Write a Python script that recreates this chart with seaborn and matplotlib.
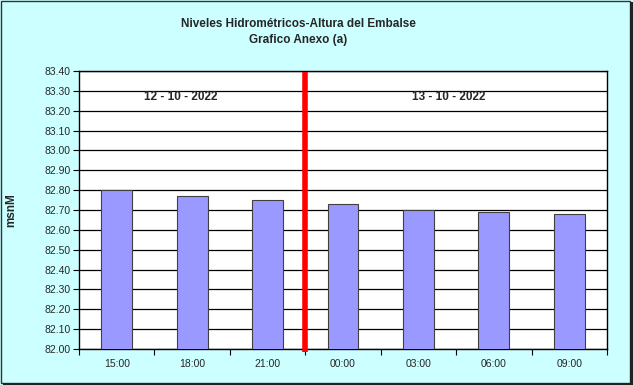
import matplotlib
matplotlib.use("Agg")
import matplotlib.pyplot as plt
import seaborn as sns
import pandas as pd
import numpy as np
from matplotlib.patches import Rectangle

hours = ["15:00", "18:00", "21:00", "00:00", "03:00", "06:00", "09:00"]
levels = [82.80, 82.77, 82.75, 82.73, 82.70, 82.69, 82.68]
y_ticks = [82.00, 82.10, 82.20, 82.30, 82.40, 82.50, 82.60, 82.70, 82.80, 82.90, 83.00, 83.10, 83.20, 83.30, 83.40]
day_labels = ["12 - 10 - 2022", "13 - 10 - 2022"]
title_lines = ["Niveles Hidrométricos-Altura del Embalse", "Grafico Anexo (a)"]
y_label = "msnM"

sns.set_theme(style="white")
plt.rcParams['font.family'] = ['Liberation Sans', 'DejaVu Sans']

bg = "#CCFFFF"
fig = plt.figure(figsize=(6.33, 3.85), dpi=100, facecolor=bg)
ax = fig.add_axes([79/633, 1-349/385, (607-79)/633, (349-71)/385])
ax.set_facecolor("white")

df = pd.DataFrame({"hora": hours, "nivel": levels})
sns.barplot(data=df, x="hora", y="nivel", color="#9999FF", saturation=1,
            width=0.41, edgecolor="#404040", linewidth=0.8, ax=ax, zorder=3)

ax.set_ylim(y_ticks[0], y_ticks[-1])
ax.set_xlim(-0.5, len(hours) - 0.5)
ax.set_yticks(y_ticks)
ax.set_yticklabels([f"{v:.2f}" for v in y_ticks], fontsize=7.5)
ax.yaxis.grid(True, color="black", linewidth=0.9, zorder=1)
ax.set_axisbelow(True)
ax.tick_params(axis="y", direction="out", length=4, width=0.8, color="black", pad=2, left=True)
ax.set_xticks(range(len(hours)))
ax.set_xticklabels(hours, fontsize=7.5)
ax.set_xticks(np.arange(-0.5, len(hours), 1.0), minor=True)
ax.tick_params(axis="x", which="major", length=0, pad=7)
ax.tick_params(axis="x", which="minor", direction="out", length=4, width=0.8, color="black", bottom=True)
ax.set_xlabel("")
ax.set_ylabel("")
for s in ax.spines.values():
    s.set_color("black")
    s.set_linewidth(1.0)

fig.text(11/633, 1-210/385, y_label, rotation=90, ha="center", va="center",
         fontsize=8.5, fontweight="bold")

# day separator
ax.axvline(2.5, ymin=-0.012, ymax=0.995, color="red", linewidth=4, zorder=5,
           clip_on=False, solid_capstyle="butt")

ax.text(0.85, 83.27, day_labels[0], ha="center", va="center", fontsize=8.5, fontweight="bold")
ax.text(4.4, 83.27, day_labels[1], ha="center", va="center", fontsize=8.5, fontweight="bold")

fig.text(298/633, 1-24/385, title_lines[0], ha="center", va="center", fontsize=8.5, fontweight="bold")
fig.text(298/633, 1-40/385, title_lines[1], ha="center", va="center", fontsize=8.5, fontweight="bold")

# figure border with shadow
fig.patches.append(Rectangle((0.001, 0.004), 0.994, 0.994, transform=fig.transFigure,
                             fill=False, edgecolor="#333333", linewidth=1.0))
fig.patches.append(Rectangle((0.996, 0.0), 0.004, 0.995, transform=fig.transFigure,
                             facecolor="#222222", edgecolor="none"))
fig.patches.append(Rectangle((0.004, 0.0), 0.996, 0.006, transform=fig.transFigure,
                             facecolor="#222222", edgecolor="none"))

fig.savefig("out.png", dpi=100, facecolor=bg)
